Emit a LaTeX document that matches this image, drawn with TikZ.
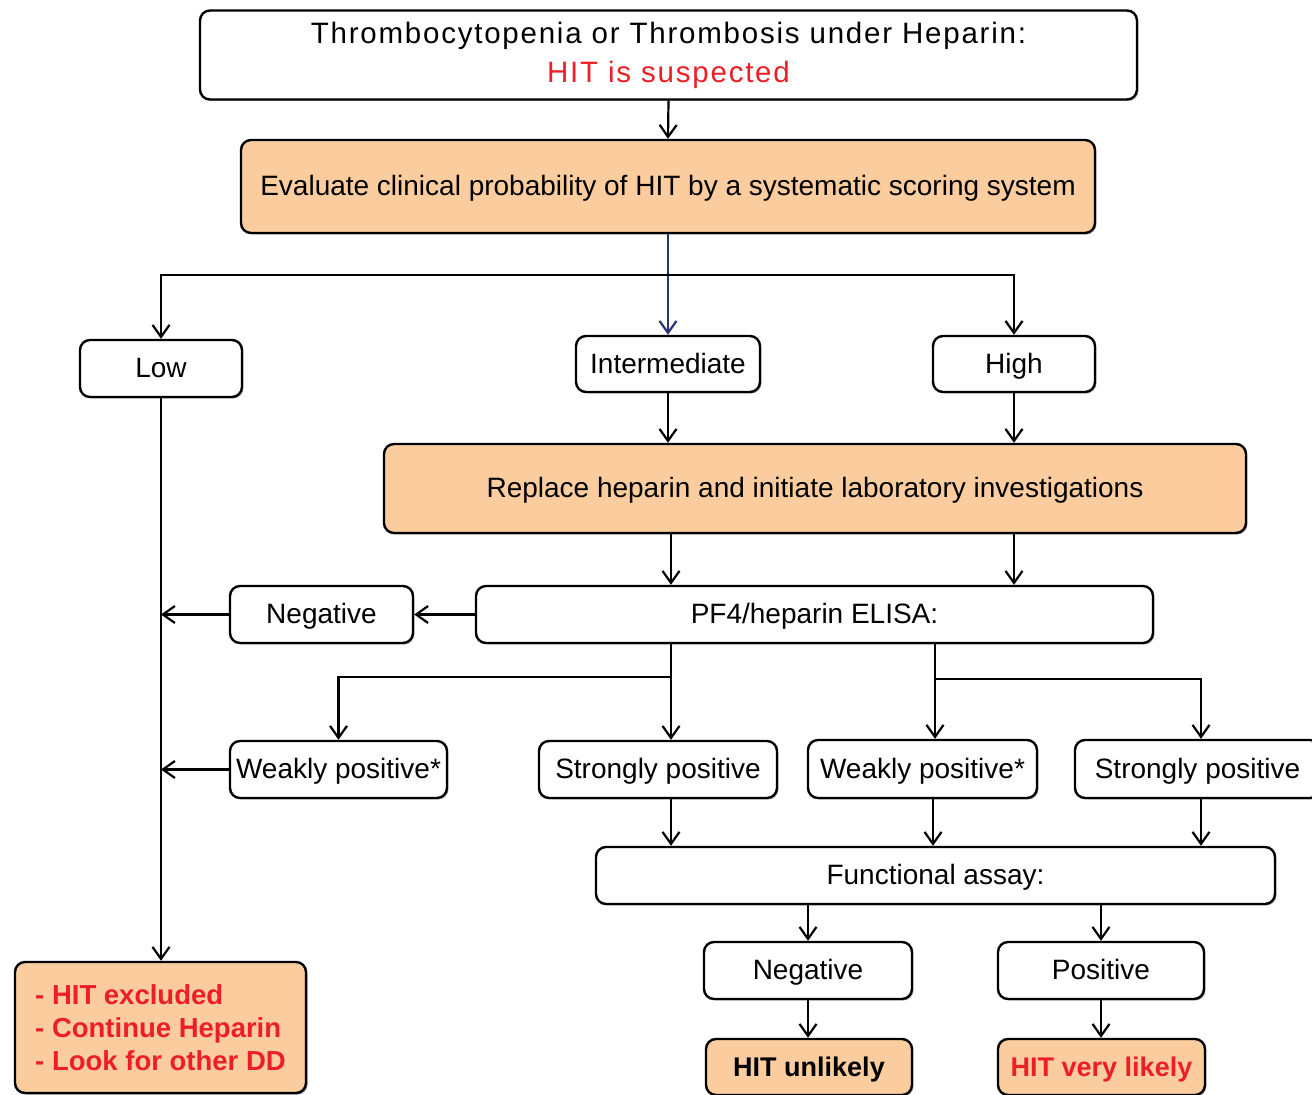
\documentclass[tikz,border=0pt]{standalone}
\usepackage{fontspec}
\setmainfont{Liberation Sans}
\newfontfamily\spacedfont[LetterSpace=6]{Liberation Sans}
\usetikzlibrary{arrows.meta,shadows}
\definecolor{boxorange}{RGB}{251,205,158}
\definecolor{hitred}{RGB}{236,30,38}
\definecolor{navyline}{RGB}{40,52,112}
\tikzset{
  box/.style={draw=black, line width=2.4pt, rounded corners=10pt, inner sep=0pt, align=center,
    font=\fontsize{28}{33}\selectfont, fill=white, text height=20pt, text depth=2pt,
    drop shadow={shadow xshift=1.5pt, shadow yshift=-1.5pt, fill=black, opacity=0.25}},
  mbox/.style={box, text height=, text depth=},
  obox/.style={box, fill=boxorange},
  arr/.style={line width=2.2pt, -{Straight Barb[length=12pt,width=17pt,line width=2.2pt]}},
}
\begin{document}
\begin{tikzpicture}[x=1pt,y=-1pt]
\useasboundingbox (0,0) rectangle (1312,1095);
% nodes
\node[mbox, minimum width=937pt, minimum height=89pt, font=\spacedfont\fontsize{29.5}{39}\selectfont] (top) at (668.5,55)
  {Thrombocytopenia or Thrombosis under Heparin:\\ \textcolor{hitred}{HIT is suspected}};
\node[obox, minimum width=854pt, minimum height=93pt] (eval) at (668,186.5)
  {Evaluate clinical probability of HIT by a systematic scoring system};
\node[box, minimum width=162pt, minimum height=57pt] (low) at (161,368.5) {Low};
\node[box, minimum width=184pt, minimum height=56pt] (inter) at (668,364) {Intermediate};
\node[box, minimum width=162pt, minimum height=56pt] (high) at (1014,364) {High};
\node[obox, minimum width=862pt, minimum height=89pt] (repl) at (815,488.5)
  {Replace heparin and initiate laboratory investigations};
\node[box, minimum width=677pt, minimum height=57pt] (pf4) at (814.5,614.5) {PF4/heparin ELISA:};
\node[box, minimum width=183pt, minimum height=57pt] (neg1) at (321.5,614.5) {Negative};
\node[box, minimum width=217pt, minimum height=57pt] (wp1) at (338.5,769.5) {Weakly positive*};
\node[box, minimum width=238pt, minimum height=57pt] (sp1) at (658,769.5) {Strongly positive};
\node[box, minimum width=229pt, minimum height=58pt] (wp2) at (922.5,769) {Weakly positive*};
\node[box, minimum width=245pt, minimum height=58pt] (sp2) at (1197.5,769) {Strongly positive};
\node[box, minimum width=679pt, minimum height=57pt] (fa) at (935.5,875.5) {Functional assay:};
\node[box, minimum width=208pt, minimum height=57pt] (neg2) at (808,970.5) {Negative};
\node[box, minimum width=206pt, minimum height=57pt] (pos) at (1101,970.5) {Positive};
\node[obox, minimum width=206pt, minimum height=56pt, font=\fontsize{27}{32}\selectfont\bfseries] (unl) at (809,1067) {HIT unlikely};
\node[obox, minimum width=207pt, minimum height=56pt, font=\fontsize{27}{32}\selectfont\bfseries, text=hitred] (vl) at (1101.5,1067) {HIT very likely};
\node[obox, mbox, fill=boxorange, minimum width=291pt, minimum height=131pt, align=left, text=hitred, font=\fontsize{27.5}{33}\selectfont\bfseries] (res) at (160.5,1027.5)
  {- HIT excluded\\- Continue Heparin\\- Look for other DD};
% junctions
\coordinate (j1) at (668,275);
\coordinate (b1) at (671,677);
\coordinate (b2) at (935,679);
% connectors
\draw[arr] (top.south) -- (eval.north);
\draw[arr, draw=navyline, -{Straight Barb[length=12pt,width=17pt,line width=2.2pt,color=navyline]}] (eval.south) -- (inter.north);
\draw[arr] (j1) -| (low.north);
\draw[arr] (j1) -| (high.north);
\draw[arr] (inter.south) -- (inter.south |- repl.north);
\draw[arr] (high.south) -- (high.south |- repl.north);
\draw[arr] (repl.south -| b1) -- (pf4.north -| b1);
\draw[arr] (repl.south -| high) -- (pf4.north -| high);
\draw[arr] (pf4.west) -- (neg1.east);
\draw[arr] (neg1.west) -- (neg1.west -| low);
\draw[arr] (low.south) -- (low.south |- res.north);
\draw[arr] (pf4.south -| b1) -- (sp1.north -| b1);
\draw[arr] (b1) -| (wp1.north);
\draw[arr] (pf4.south -| b2) -- (wp2.north -| b2);
\draw[arr] (b2) -| ([xshift=3.5pt]sp2.north);
\draw[arr] (wp1.west) -- (wp1.west -| low);
\draw[arr] (sp1.south -| b1) -- (fa.north -| b1);
\draw[arr] ([xshift=10.5pt]wp2.south) -- ([xshift=10.5pt]wp2.south |- fa.north);
\draw[arr] ([xshift=3.5pt]sp2.south) -- ([xshift=3.5pt]sp2.south |- fa.north);
\draw[arr] (fa.south -| neg2) -- (neg2.north);
\draw[arr] (fa.south -| pos) -- (pos.north);
\draw[arr] (neg2.south) -- (neg2.south |- unl.north);
\draw[arr] (pos.south) -- (pos.south |- vl.north);
\end{tikzpicture}
\end{document}
